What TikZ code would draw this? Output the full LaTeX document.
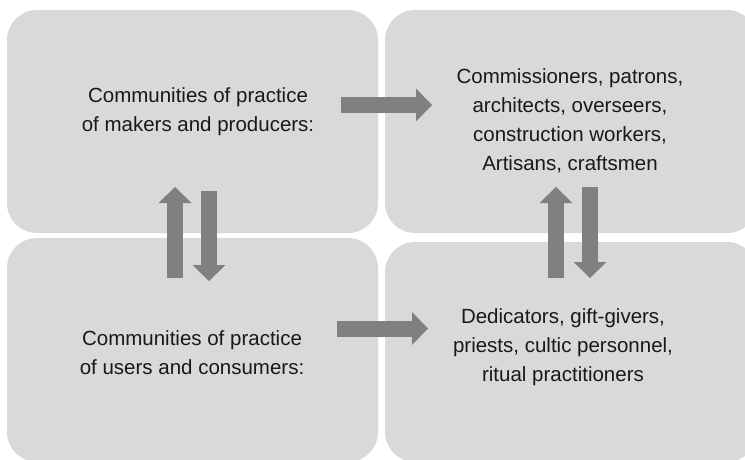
\documentclass[tikz,border=0pt]{standalone}
\usepackage{fontspec}
\setmainfont{Liberation Sans}
\usetikzlibrary{arrows.meta}
\definecolor{boxgray}{HTML}{D9D9D9}
\definecolor{arrowgray}{HTML}{808080}
\begin{document}
\begin{tikzpicture}[x=1pt,y=-1pt,
  panel/.style={fill=boxgray, draw=none, rounded corners=30pt},
  caption/.style={anchor=north, align=center, inner sep=0pt,
    font=\fontsize{20.5}{29.3}\selectfont, text=black!90},
  flow/.style={draw=arrowgray, line width=16pt,
    -{Triangle[width=33pt,length=16pt,line width=0pt]}}]
\useasboundingbox (0,0) rectangle (745,460);
% four panels
\fill[panel] (7,10) rectangle (378,233);
\node[inner sep=0pt, minimum width=371pt, minimum height=223pt] (makers) at (192.5,121.5) {};
\fill[panel] (385,10) rectangle (757,233);
\node[inner sep=0pt, minimum width=372pt, minimum height=223pt] (builders) at (571,121.5) {};
\fill[panel] (7,238) rectangle (378,462);
\node[inner sep=0pt, minimum width=371pt, minimum height=224pt] (users) at (192.5,350) {};
\fill[panel] (385,242) rectangle (757,462);
\node[inner sep=0pt, minimum width=372pt, minimum height=220pt] (givers) at (571,352) {};
% texts
\node[caption] (makerstext) at (198,87) {Communities of practice\\of makers and producers:};
\node[caption] (builderstext) at (570,68) {Commissioners, patrons,\\architects, overseers,\\construction workers,\\Artisans, craftsmen};
\node[caption] (userstext) at (192,330) {Communities of practice\\of users and consumers:};
\node[caption] (giverstext) at (563,308) {Dedicators, gift-givers,\\priests, cultic personnel,\\ritual practitioners};
% arrow end points
\coordinate (mk1) at (341,105);   \coordinate (bd1) at (432,105);
\coordinate (us1) at (337,328.5); \coordinate (gv1) at (428,328.5);
\coordinate (us2) at (175,278);   \coordinate (mk2) at (175,187);
\coordinate (mk3) at (209,191);   \coordinate (us3) at (209,281);
\coordinate (gv2) at (556,278);   \coordinate (bd2) at (556,187);
\coordinate (bd3) at (590,187);   \coordinate (gv3) at (590,278);
% block arrows
\draw[flow] (mk1) -- (bd1);
\draw[flow] (us1) -- (gv1);
\draw[flow] (us2) -- (mk2);
\draw[flow] (mk3) -- (us3);
\draw[flow] (gv2) -- (bd2);
\draw[flow] (bd3) -- (gv3);
\end{tikzpicture}
\end{document}
